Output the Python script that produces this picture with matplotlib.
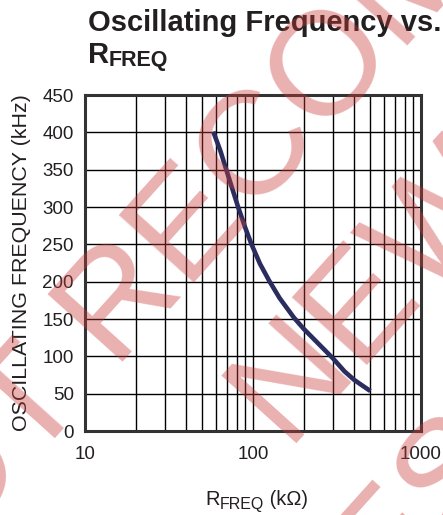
import math
import matplotlib
matplotlib.use('Agg')
import matplotlib.pyplot as plt
from matplotlib.ticker import LogLocator, NullFormatter

# dados
r_kohm = [58, 64, 70, 81, 90, 98, 110, 125, 144, 175, 200, 250, 300, 350, 400, 450, 500]
f_khz = [401, 375, 347, 302, 272, 250, 224, 201, 178, 152, 137, 115, 97, 80, 68.5, 60.5, 53.5]

x_ticks = [10, 100, 1000]
x_tick_labels = ['10', '100', '1000']
y_ticks = [0, 50, 100, 150, 200, 250, 300, 350, 400, 450]

W, H = 443, 515
plt.rcParams['font.family'] = ['Liberation Sans', 'DejaVu Sans']
txt = '#231f20'


def px(x, y):
    # pixel (a partir do topo esquerdo) -> fracao da figura
    return x / W, 1 - y / H


# eixos girados da marca d'agua (u ao longo da linha, v perpendicular)
ANG = 48
ca, sa = math.cos(math.radians(ANG)), math.sin(math.radians(ANG))


def wm(u, v):
    return px(u * ca + v * sa, -u * sa + v * ca)


fig = plt.figure(figsize=(W / 100, H / 100), dpi=100)
ax = fig.add_axes([85 / W, 1 - 431 / H, 336 / W, 336 / H])

# curva
ax.plot(r_kohm, f_khz, color='#2b2d5e', linewidth=3.3, solid_capstyle='butt',
        solid_joinstyle='round', zorder=3)

ax.set_xscale('log')
ax.set_xlim(10, 1000)
ax.set_ylim(0, 450)
ax.set_xticks(x_ticks)
ax.set_xticklabels(x_tick_labels)
ax.xaxis.set_minor_locator(LogLocator(base=10, subs=range(2, 10)))
ax.xaxis.set_minor_formatter(NullFormatter())
ax.set_yticks(y_ticks)

# grade
ax.grid(True, which='both', color='black', linewidth=1.0)
ax.tick_params(which='both', length=0)
ax.tick_params(axis='y', labelsize=13.5, pad=8, labelcolor=txt)
ax.tick_params(axis='x', labelsize=13.5, pad=11, labelcolor=txt)
for s in ax.spines.values():
    s.set_linewidth(2.2)
    s.set_color('#333333')

ax.set_ylabel('OSCILLATING FREQUENCY (kHz)', fontsize=15.4, color=txt, labelpad=8)

# rotulo do eixo x com subscrito
fig.text(*px(205, 505), 'R', fontsize=14.5, color=txt, va='baseline')
fig.text(*px(220, 509), 'FREQ', fontsize=11.5, color=txt, va='baseline')
fig.text(*px(264, 505), ' (k\u03a9)', fontsize=14.5, color=txt, va='baseline')

# titulo
fig.text(*px(88, 31), 'Oscillating Frequency vs.', fontsize=21, fontweight='bold',
         color=txt, va='baseline')
fig.text(*px(88, 63), 'R', fontsize=21, fontweight='bold', color=txt, va='baseline')
fig.text(*px(109, 66), 'FREQ', fontsize=15.5, fontweight='bold', color=txt, va='baseline')

# marca d'agua
wm_style = dict(fontsize=106, color='#ca3a3a', alpha=0.4,
                rotation=ANG, rotation_mode='anchor', va='baseline', zorder=10)
fig.text(*wm(-198, 334), 'NOT ', ha='right', **wm_style)
fig.text(*wm(-198, 334), 'RECOMMENDED FOR', ha='left', **wm_style)
fig.text(*wm(-139, 508), 'NEW', ha='left', **wm_style)
fig.text(*wm(-297, 690), 'DESIGNS', ha='left', **wm_style)

fig.savefig('out.png', dpi=100)
